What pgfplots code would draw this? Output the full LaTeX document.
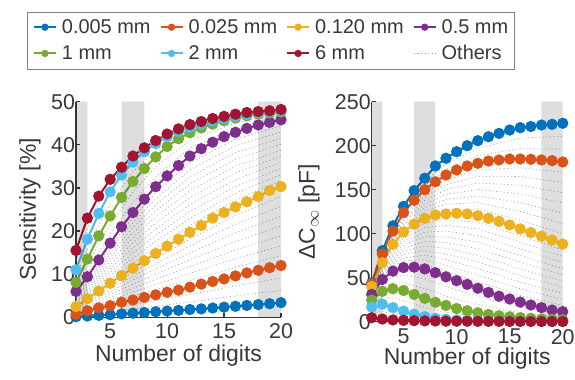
\documentclass[border=0pt]{standalone}
\usepackage{fontspec}
\setmainfont{Liberation Sans}
\usepackage{pgfplots}
\usepackage{pgfplotstable}
\pgfplotsset{compat=1.18}
\definecolor{s1}{HTML}{0072BD}
\definecolor{s2}{HTML}{D95319}
\definecolor{s3}{HTML}{EDB120}
\definecolor{s4}{HTML}{7E2F8E}
\definecolor{s5}{HTML}{77AC30}
\definecolor{s6}{HTML}{4DBEEE}
\definecolor{s7}{HTML}{A2142F}
\definecolor{txt}{HTML}{383838}

\pgfplotstableread{
N B O Y P G L R
2 0.15 0.7 2.5 6.0 8.1 11.0 15.5
3 0.3 1.5 4.3 9.4 13.5 18.1 23.0
4 0.45 2.2 6.1 13.3 18.9 24.1 28.1
5 0.6 2.7 7.9 17.2 23.5 29.1 32.0
6 0.8 3.5 9.7 21.0 27.8 33.0 34.8
7 0.95 4.0 11.4 24.3 31.5 36.0 37.4
8 1.1 4.6 13.1 27.4 34.5 38.4 39.3
9 1.3 5.2 14.8 30.3 37.2 40.3 41.0
10 1.45 5.8 16.5 32.8 39.6 41.9 42.5
11 1.6 6.3 18.1 35.2 41.4 43.1 43.7
12 1.8 7.0 19.7 37.4 42.8 44.0 44.7
13 1.95 7.7 21.3 39.1 43.9 44.8 45.4
14 2.15 8.3 23.0 40.6 44.8 45.5 46.1
15 2.35 8.9 24.3 41.9 45.6 46.1 46.6
16 2.55 9.6 25.6 42.9 46.2 46.6 47.1
17 2.75 10.3 26.8 43.8 46.7 47.0 47.5
18 2.95 10.9 28.0 44.6 47.1 47.4 47.7
19 3.15 11.5 29.4 45.2 47.4 47.7 47.9
20 3.4 12.0 30.3 45.8 47.6 47.9 48.2
}\leftmain

\pgfplotstableread{
N B O Y P G L R
2 44 43 40 31 24.5 16.5 4.5
3 80.7 77 67 48 34.5 20 3
4 109 103 88 57.5 37.5 16 2
5 131 124 102 61.5 35.5 12 1.5
6 149 138 111 62 31 8.5 1.2
7 163 150 117.4 60 26.5 5.8 0.9
8 177 159 121.3 55.7 22 3.8 0.8
9 185.7 166.7 122.4 51 18.5 2.8 0.6
10 193.2 172.4 123.2 46.6 15 2.0 0.55
11 200 176.9 122.4 42.4 12.5 1.5 0.5
12 205.7 180 120.5 38 10.2 1.2 0.4
13 210.2 182.6 117.5 33.3 8.2 1.0 0.4
14 214 183.8 114 29 6.8 0.8 0.35
15 217.8 184.9 110 25.8 5.6 0.7 0.3
16 220.5 184.9 105.5 22.3 4.6 0.6 0.3
17 221.8 184.5 101.3 19 3.8 0.5 0.3
18 223.5 183.8 97.2 16 3.1 0.4 0.25
19 224.3 183 92.8 13.3 2.6 0.4 0.2
20 225.5 181.5 88.3 11.4 2.2 0.3 0.2
}\rightmain

\pgfplotstableread{
N c1 c2 c3 c4 c5 c6 c7 c8 c9 c10 c11 c12 c13 c14 c15 c16 c17 c18 c19 c20 c21 c22 c23
2 0.33 0.52 0.93 1.15 1.38 1.6 1.83 2.05 2.28 2.82 3.14 3.45 3.77 4.09 4.41 4.73 5.05 5.36 5.68 6.7 7.4 9.55 13.25
3 0.7 1.1 1.85 2.2 2.55 2.9 3.25 3.6 3.95 4.76 5.23 5.69 6.16 6.62 7.08 7.55 8.01 8.48 8.94 10.77 12.13 15.8 20.55
4 1.03 1.62 2.69 3.18 3.66 4.15 4.64 5.13 5.61 6.76 7.41 8.07 8.72 9.38 10.03 10.69 11.34 11.99 12.65 15.17 17.03 21.5 26.1
5 1.3 2.0 3.35 4.0 4.65 5.3 5.95 6.6 7.25 8.75 9.59 10.44 11.28 12.13 12.97 13.82 14.66 15.5 16.35 19.3 21.4 26.3 30.55
7 1.97 2.98 4.93 5.85 6.78 7.7 8.63 9.55 10.48 12.57 13.75 14.92 16.09 17.27 18.44 19.61 20.78 21.96 23.13 26.7 29.1 33.75 36.7
9 2.6 3.9 6.4 7.6 8.8 10.0 11.2 12.4 13.6 16.21 17.62 19.03 20.44 21.85 23.25 24.66 26.07 27.48 28.89 32.6 34.9 38.75 40.65
12 3.53 5.27 8.59 10.18 11.76 13.35 14.94 16.53 18.11 21.31 22.92 24.53 26.14 27.75 29.35 30.96 32.57 34.18 35.79 39.2 41.0 43.4 44.35
16 4.97 7.28 11.6 13.6 15.6 17.6 19.6 21.6 23.6 27.17 28.75 30.32 31.89 33.46 35.04 36.61 38.18 39.76 41.33 44.0 45.1 46.4 46.85
20 6.27 9.13 14.29 16.58 18.86 21.15 23.44 25.73 28.01 31.71 33.12 34.53 35.94 37.35 38.75 40.16 41.57 42.98 44.39 46.4 47.0 47.75 48.05
}\leftothers

\pgfplotstableread{
N c1 c2 c3 c4 c5 c6 c7 c8 c9 c10 c11 c12 c13 c14 c15 c16 c17 c18 c19 c20 c21 c22 c23
2 43.67 43.33 42.63 42.25 41.88 41.5 41.13 40.75 40.38 39.18 38.36 37.55 36.73 35.91 35.09 34.27 33.45 32.64 31.82 28.83 26.67 20.5 10.5
3 79.47 78.23 75.75 74.5 73.25 72.0 70.75 69.5 68.25 65.27 63.55 61.82 60.09 58.36 56.64 54.91 53.18 51.45 49.73 43.5 39 27.25 11.5
4 107 105 101.13 99.25 97.38 95.5 93.63 91.75 89.88 85.23 82.45 79.68 76.91 74.14 71.36 68.59 65.82 63.05 60.27 50.83 44.17 26.75 9
5 128.67 126.33 121.25 118.5 115.75 113.0 110.25 107.5 104.75 98.32 94.64 90.95 87.27 83.59 79.91 76.23 72.55 68.86 65.18 52.83 44.17 23.75 6.75
7 158.67 154.33 145.93 141.85 137.78 133.7 129.63 125.55 121.48 112.18 106.96 101.75 96.53 91.31 86.09 80.87 75.65 70.44 65.22 48.83 37.67 16.15 3.35
9 179.37 173.03 161.16 155.63 150.09 144.55 139.01 133.48 127.94 115.91 109.42 102.93 96.44 89.95 83.45 76.96 70.47 63.98 57.49 40.17 29.33 10.65 1.7
12 197.13 188.57 172.56 165.13 157.69 150.25 142.81 135.38 127.94 113.0 105.5 98.0 90.5 83.0 75.5 68.0 60.5 53.0 45.5 28.73 19.47 5.7 0.8
16 208.63 196.77 174.98 165.05 155.13 145.2 135.28 125.35 115.43 97.94 90.37 82.81 75.24 67.68 60.12 52.55 44.99 37.42 29.86 16.4 10.5 2.6 0.45
20 210.83 196.17 169.85 158.2 146.55 134.9 123.25 111.6 99.95 81.31 74.32 67.33 60.34 53.34 46.35 39.36 32.37 25.38 18.39 8.33 5.27 1.25 0.25
}\rightothers

\pgfplotsset{
  myaxis/.style={
    scale only axis, clip=false,
    axis x line*=bottom, axis y line*=left,
    axis line style={-, draw=txt, line width=1.2bp},
    tick align=inside, major tick length=4bp,
    tick style={draw=txt, line width=1.2bp},
    xmin=2, xmax=20, xtick={5,10,15,20},
    ticklabel style={font=\fontsize{21.5}{25}\selectfont, text=txt},
    xticklabel style={yshift=-3bp},
    yticklabel style={xshift=2.5bp},
    label style={font=\fontsize{23}{27}\selectfont, text=txt},
    /pgf/number format/assume math mode=true,
    enlargelimits=false,
    xlabel={Number of digits},
  },
  mainline/.style={line width=2bp, mark=*, mark size=4.6bp, mark options={solid}},
  otherstyle/.style={gray!70, line width=0.6bp, dash pattern=on 1.2bp off 2.4bp},
  band/.style={draw=none, fill=black, fill opacity=0.13, forget plot},
}

\begin{document}
\begin{tikzpicture}[x=1bp,y=1bp]
\useasboundingbox (0,0) rectangle (575,379);
\begin{axis}[myaxis,
  at={(76bp,61.7bp)}, anchor=south west,
  width=205bp, height=215.6bp,
  ymin=0, ymax=50, ytick={0,10,...,50},
  ylabel={Sensitivity [\%]},
  ylabel style={at={(axis description cs:-0.2244,0.5)}, anchor=center},
  xlabel style={at={(axis description cs:0.5,-0.205)}, anchor=base},
  legend columns=4,
  legend cell align=left,
  legend image code/.code={\draw[mark repeat=2,mark phase=2,#1, mark size=2.6bp] plot coordinates {(0bp,0bp) (11bp,0bp) (22bp,0bp)};},
  legend style={at={(axis description cs:0.949,1.284)}, anchor=center,
    draw=gray, line width=0.8bp, text=txt,
    font=\fontsize{20}{24}\selectfont,
    nodes={inner sep=0bp},
    /tikz/every odd column/.append style={column sep=5bp},
    /tikz/every even column/.append style={column sep=9bp},
    inner xsep=6bp, inner ysep=7.5bp, row sep=10.6bp},
]
\pgfplotsinvokeforeach{1,...,23}{
  \addplot[otherstyle, forget plot] table[x=N, y=c#1]{\leftothers};
}
\addplot[mainline, color=s1] table[x=N,y=B]{\leftmain};
\addplot[mainline, color=s2] table[x=N,y=O]{\leftmain};
\addplot[mainline, color=s3] table[x=N,y=Y]{\leftmain};
\addplot[mainline, color=s4] table[x=N,y=P]{\leftmain};
\addplot[mainline, color=s5] table[x=N,y=G]{\leftmain};
\addplot[mainline, color=s6] table[x=N,y=L]{\leftmain};
\addplot[mainline, color=s7] table[x=N,y=R]{\leftmain};
\addplot[band] coordinates {(2,0) (2,50) (3,50) (3,0)} \closedcycle;
\addplot[band] coordinates {(6,0) (6,50) (8,50) (8,0)} \closedcycle;
\addplot[band] coordinates {(18,0) (18,50) (20,50) (20,0)} \closedcycle;
\addlegendimage{otherstyle}
\legend{0.005 mm, 0.025 mm, 0.120 mm, 0.5 mm, 1 mm, 2 mm, 6 mm, Others}
\end{axis}

\begin{axis}[myaxis,
  at={(371.7bp,57.3bp)}, anchor=south west,
  width=191bp, height=220bp,
  ymin=0, ymax=250, ytick={0,50,...,250},
  xticklabel style={yshift=-1bp},
  ylabel={ΔC$_{\infty}$ [pF]},
  ylabel style={at={(axis description cs:-0.328,0.5)}, anchor=center},
  xlabel style={at={(axis description cs:0.5,-0.196)}, anchor=base},
]
\pgfplotsinvokeforeach{1,...,23}{
  \addplot[otherstyle, forget plot] table[x=N, y=c#1]{\rightothers};
}
\addplot[mainline, color=s1] table[x=N,y=B]{\rightmain};
\addplot[mainline, color=s2] table[x=N,y=O]{\rightmain};
\addplot[mainline, color=s3] table[x=N,y=Y]{\rightmain};
\addplot[mainline, color=s4] table[x=N,y=P]{\rightmain};
\addplot[mainline, color=s5] table[x=N,y=G]{\rightmain};
\addplot[mainline, color=s6] table[x=N,y=L]{\rightmain};
\addplot[mainline, color=s7] table[x=N,y=R]{\rightmain};
\addplot[band] coordinates {(2,0) (2,250) (3,250) (3,0)} \closedcycle;
\addplot[band] coordinates {(6,0) (6,250) (8,250) (8,0)} \closedcycle;
\addplot[band] coordinates {(18,0) (18,250) (20,250) (20,0)} \closedcycle;
\end{axis}
\end{tikzpicture}
\end{document}
